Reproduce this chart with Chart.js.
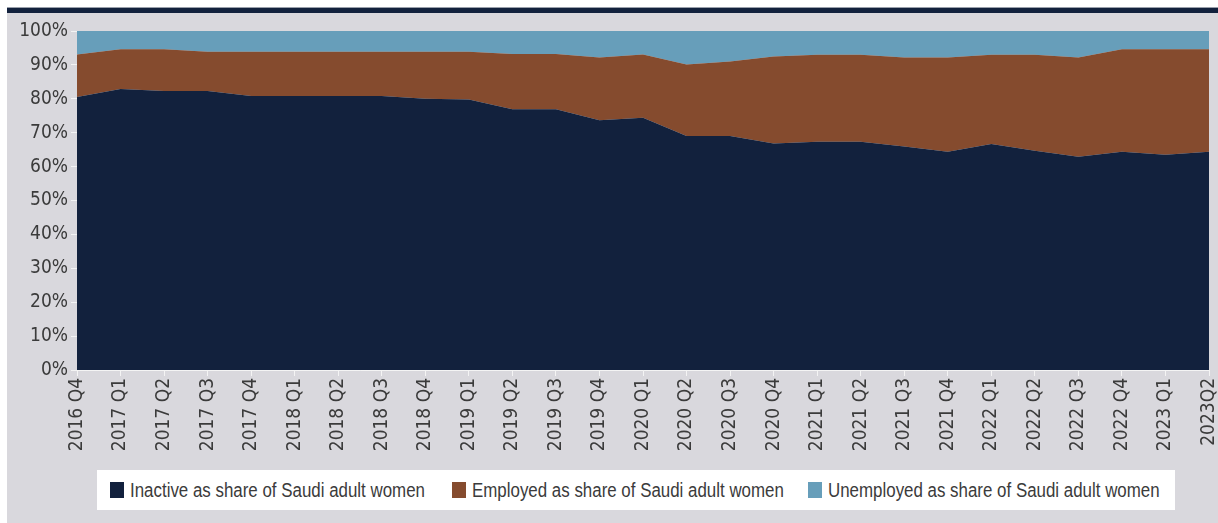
<!DOCTYPE html>
<html>
<head>
<meta charset="utf-8">
<script src="https://cdn.jsdelivr.net/npm/chart.js@4/dist/chart.umd.min.js"></script>
<style>
    body { margin: 0; background: #ffffff; }
    #top-bar { position: absolute; left: 7px; top: 7px; width: 1211px; height: 6px; background: #12213d; border-top: 1px solid #9aa0ab; box-sizing: border-box; }
    #panel { position: absolute; left: 7px; top: 13px; width: 1211px; height: 510px; background: #d9d8dd; }
    #chart-wrap { position: absolute; left: 0; top: 0; width: 1211px; height: 457px; }
    #legend { position: absolute; left: 90px; top: 457px; width: 1078px; height: 40px; background: #ffffff;
              color: #3b3b3b; font-family: "Liberation Sans", Arial, sans-serif; font-size: 20px; }
    .legend-item { position: absolute; top: 0; height: 40px; display: flex; align-items: center; white-space: nowrap; }
    .legend-box { width: 14px; height: 16px; margin-right: 6px; flex: none; }
    .legend-text { display: inline-block; transform: scaleX(0.845); transform-origin: left center; }
</style>
</head>
<body>
<div id="top-bar"></div>
<div id="panel">
    <div id="chart-wrap"><canvas id="chart-women"></canvas></div>
    <div id="legend"></div>
</div>
<script>
// Quarterly shares (%) of Saudi adult women
const quarters = [
    "2016 Q4", "2017 Q1", "2017 Q2", "2017 Q3", "2017 Q4", "2018 Q1", "2018 Q2", "2018 Q3", "2018 Q4",
    "2019 Q1", "2019 Q2", "2019 Q3", "2019 Q4", "2020 Q1", "2020 Q2", "2020 Q3", "2020 Q4",
    "2021 Q1", "2021 Q2", "2021 Q3", "2021 Q4", "2022 Q1", "2022 Q2", "2022 Q3", "2022 Q4",
    "2023 Q1", "2023Q2"
];
const inactive = [80.5, 82.9, 82.3, 82.3, 80.8, 80.8, 80.8, 80.8, 80.0, 79.8, 76.9, 76.9, 73.7, 74.4,
    69.0, 69.0, 66.8, 67.3, 67.3, 65.9, 64.4, 66.7, 64.7, 62.9, 64.4, 63.5, 64.4];
const employed = [12.6, 11.7, 12.3, 11.6, 13.1, 13.1, 13.1, 13.1, 13.9, 14.1, 16.3, 16.3, 18.5, 18.7,
    21.1, 22.0, 25.7, 25.7, 25.7, 26.3, 27.8, 26.3, 28.3, 29.3, 30.2, 31.1, 30.2];
const unemployed = [6.9, 5.4, 5.4, 6.1, 6.1, 6.1, 6.1, 6.1, 6.1, 6.1, 6.8, 6.8, 7.8, 6.9,
    9.9, 9.0, 7.5, 7.0, 7.0, 7.8, 7.8, 7.0, 7.0, 7.8, 5.4, 5.4, 5.4];
const yTicks = [0, 10, 20, 30, 40, 50, 60, 70, 80, 90, 100];

const seriesNames = [
    "Inactive as share of Saudi adult women",
    "Employed as share of Saudi adult women",
    "Unemployed as share of Saudi adult women"
];
const seriesColors = ["#12213d", "#854b2e", "#679eba"];

const FONT = "'DejaVu Sans Condensed', sans-serif";
const TEXT = "#3b3b3b";

function areaDataset(idx, values) {
    return {
        label: seriesNames[idx],
        data: values,
        backgroundColor: seriesColors[idx],
        borderColor: seriesColors[idx],
        borderWidth: 0,
        pointRadius: 0,
        tension: 0,
        fill: idx === 0 ? "origin" : "-1"
    };
}

const ctx = document.getElementById("chart-women").getContext("2d");
const chart = new Chart(ctx, {
    type: "line",
    data: {
        labels: quarters,
        datasets: [
            areaDataset(0, inactive),
            areaDataset(1, employed),
            areaDataset(2, unemployed)
        ]
    },
    options: {
        responsive: true,
        maintainAspectRatio: false,
        animation: false,
        layout: { padding: { top: 18, right: 0, left: 0, bottom: 0 } },
        plugins: {
            legend: { display: false },
            tooltip: { enabled: false }
        },
        scales: {
            x: {
                offset: false,
                grid: { display: true, drawOnChartArea: false, drawTicks: true, tickLength: 6, color: "#f4f4f4" },
                border: { display: true, color: "#f4f4f4", width: 1 },
                ticks: {
                    autoSkip: false,
                    maxRotation: 90,
                    minRotation: 90,
                    padding: 2,
                    color: TEXT,
                    font: { family: FONT, size: 19 }
                },
                afterFit: scale => {
                    scale.height = 100;
                    scale.paddingLeft = 0;
                    scale.paddingRight = 9;
                }
            },
            y: {
                stacked: true,
                min: 0,
                max: 100,
                afterBuildTicks: scale => { scale.ticks = yTicks.map(v => ({ value: v })); },
                grid: { display: true, drawOnChartArea: false, drawTicks: true, tickLength: 6, color: "#f4f4f4" },
                border: { display: true, color: "#f4f4f4", width: 1 },
                ticks: {
                    padding: 3,
                    color: TEXT,
                    font: { family: FONT, size: 19 },
                    callback: v => v + "%"
                },
                afterFit: scale => { scale.width = 70; }
            }
        }
    }
});

// Legend under the chart, built from the datasets
const legendOffsets = [13, 355, 711];
const legend = document.getElementById("legend");
chart.data.datasets.forEach((ds, i) => {
    const item = document.createElement("div");
    item.className = "legend-item";
    item.style.left = legendOffsets[i] + "px";
    item.innerHTML = `<span class="legend-box" style="background:${ds.backgroundColor}"></span><span class="legend-text">${ds.label}</span>`;
    legend.appendChild(item);
});
</script>
</body>
</html>
